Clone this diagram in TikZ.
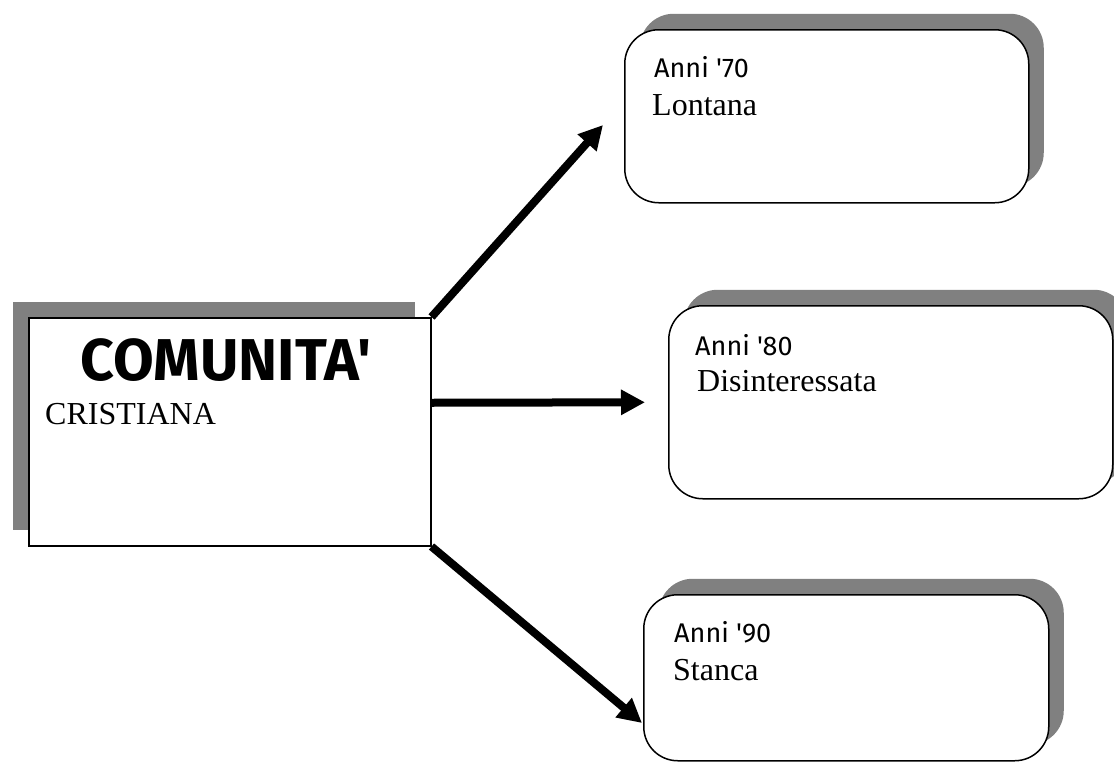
\documentclass[tikz,border=0pt]{standalone}
\usepackage{fontspec}
\setmainfont{Liberation Serif}
\newfontfamily\comic{Fira Sans}
\usetikzlibrary{shadows,arrows.meta}

\begin{document}
\begin{tikzpicture}[x=1pt, y=-1pt,
    mainbox/.style = {draw, line width=1.5pt, fill=white, anchor=north west, inner sep=0pt,
        general shadow={fill=gray, shadow xshift=-16pt, shadow yshift=16pt}},
    era/.style = {draw, line width=1.5pt, fill=white, anchor=north west, inner sep=0pt,
        rounded corners=34pt,
        general shadow={fill=gray, shadow xshift=15pt, shadow yshift=16pt}},
    year/.style = {anchor=base west, inner sep=0pt, font=\comic\fontsize{27}{30}\selectfont},
    word/.style = {anchor=base west, inner sep=0pt, font=\fontsize{32}{38}\selectfont},
    arr/.style = {line width=8pt, -{Triangle[length=24pt, width=24pt]}}]
    \useasboundingbox (0,0) rectangle (1114,763);
    % boxes
    \node[mainbox, minimum width=402pt, minimum height=228pt] (main) at (28,317) {};
    \node[era, minimum width=404pt, minimum height=173pt] (b70) at (624,29) {};
    \node[era, minimum width=444pt, minimum height=193pt] (b80) at (668,305) {};
    \node[era, minimum width=405pt, minimum height=166pt] (b90) at (643,594) {};
    % texts
    \node[anchor=base, inner sep=0pt, font=\comic\bfseries\fontsize{59}{66}\selectfont] (com) at (226,380) {COMUNITA'};
    \node[word] (cri) at (45,424) {CRISTIANA};
    \node[year] (y70) at (654,77) {Anni '70};
    \node[word] (w70) at (652,115) {Lontana};
    \node[year] (y80) at (695,355) {Anni '80};
    \node[word] (w80) at (697,391) {Disinteressata};
    \node[year] (y90) at (674,642) {Anni '90};
    \node[word] (w90) at (673,680) {Stanca};
    % arrows
    \coordinate (t70) at (603,125);
    \coordinate (t90) at (642,723);
    \draw[arr] (main.north east) -- (t70);
    \draw[arr, shorten >=23pt] ([yshift=29pt]main.east) -- (b80.west);
    \draw[arr] (main.south east) -- (t90);
\end{tikzpicture}
\end{document}
